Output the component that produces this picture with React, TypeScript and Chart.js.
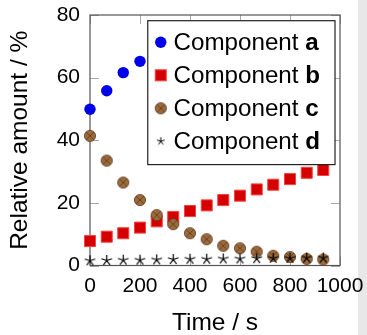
import React, { useEffect, useRef } from "react";
import { Chart, registerables } from "chart.js";
Chart.register(...registerables);

const times = [0, 67, 133, 200, 267, 333, 400, 467, 533, 600, 667, 733, 800, 867, 933];
const compA = [49.9, 55.8, 61.6, 65.2, 67.9, 69.4, 70.1, 70.1, 70.4, 69.7, 68.8, 68.4, 66.8, 65.6, 65.0];
const compB = [7.8, 9.2, 10.3, 12.1, 14.1, 15.5, 17.4, 19.2, 20.9, 22.3, 24.3, 25.8, 27.6, 29.6, 30.5];
const compC = [41.4, 33.5, 26.5, 20.9, 16.1, 13.2, 10.3, 8.4, 6.3, 5.5, 4.4, 3.1, 2.7, 2.1, 1.9];
const compD = [1.5, 1.6, 1.7, 1.7, 1.8, 1.9, 2.0, 2.0, 2.1, 2.1, 2.2, 2.3, 2.3, 2.4, 2.4];
const seriesLetters = ["a", "b", "c", "d"];
const seriesPrefix = "Component ";
const xTitle = "Time / s";
const yTitle = "Relative amount / %";

const FONT = "'Liberation Sans', Arial, sans-serif";

function makeCircleX(): HTMLCanvasElement {
  const s = 14;
  const c = document.createElement("canvas");
  c.width = s;
  c.height = s;
  const g = c.getContext("2d")!;
  const r = 5.6;
  const cx = s / 2,
    cy = s / 2;
  g.beginPath();
  g.arc(cx, cy, r, 0, Math.PI * 2);
  g.fillStyle = "#9c6a3c";
  g.fill();
  g.lineWidth = 0.8;
  g.strokeStyle = "#5a3a1c";
  g.stroke();
  const d = r * Math.SQRT1_2;
  g.beginPath();
  g.moveTo(cx - d, cy - d);
  g.lineTo(cx + d, cy + d);
  g.moveTo(cx + d, cy - d);
  g.lineTo(cx - d, cy + d);
  g.stroke();
  return c;
}

function makeStar(r: number, lw: number): HTMLCanvasElement {
  const s = Math.ceil(r * 2 + 4);
  const c = document.createElement("canvas");
  c.width = s;
  c.height = s;
  const g = c.getContext("2d")!;
  const cx = s / 2,
    cy = s / 2;
  g.strokeStyle = "#000";
  g.lineWidth = lw;
  g.beginPath();
  for (let k = 0; k < 5; k++) {
    const a = ((-90 + 72 * k) * Math.PI) / 180;
    g.moveTo(cx, cy);
    g.lineTo(cx + r * Math.cos(a), cy + r * Math.sin(a));
  }
  g.stroke();
  return c;
}

const framePlugin = {
  id: "frame",
  beforeDatasetsDraw(chart: any) {
    const { ctx, chartArea } = chart;
    const { left, right, top, bottom } = chartArea;
    const xs = chart.scales.x;
    const ys = chart.scales.y;
    const L = 9;
    ctx.save();
    ctx.strokeStyle = "#a8a8a8";
    ctx.lineWidth = 1;
    ctx.beginPath();
    xs.ticks.forEach((t: any) => {
      const px = Math.round(xs.getPixelForValue(t.value)) + 0.5;
      ctx.moveTo(px, bottom);
      ctx.lineTo(px, bottom - L);
      ctx.moveTo(px, top);
      ctx.lineTo(px, top + L);
    });
    ys.ticks.forEach((t: any) => {
      const py = Math.round(ys.getPixelForValue(t.value)) + 0.5;
      ctx.moveTo(left, py);
      ctx.lineTo(left + L, py);
      ctx.moveTo(right, py);
      ctx.lineTo(right - L, py);
    });
    ctx.stroke();
    ctx.strokeStyle = "#555";
    ctx.lineWidth = 1.2;
    ctx.strokeRect(left, top, right - left, bottom - top);
    ctx.restore();
  },
};

const legendPlugin = {
  id: "boxLegend",
  afterDraw(chart: any) {
    const { ctx, chartArea } = chart;
    const fs = 24.2;
    const normal = `${fs}px ${FONT}`;
    const bold = `bold ${fs}px ${FONT}`;
    ctx.save();
    ctx.font = normal;
    const pw = ctx.measureText(seriesPrefix).width;
    ctx.font = bold;
    let lw = 0;
    chart.data.datasets.forEach((ds: any) => {
      lw = Math.max(lw, ctx.measureText(ds.letter).width);
    });
    const textW = pw + lw;
    const w = 25.7 + textW + 15;
    const rowH = 33;
    const h = 21.6 + rowH * 3 + 23.3;
    const right = chartArea.right - 5;
    const top = chartArea.top + 5.7;
    const left = right - w;
    ctx.fillStyle = "#fff";
    ctx.fillRect(left, top, w, h);
    ctx.strokeStyle = "#222";
    ctx.lineWidth = 1.2;
    ctx.strokeRect(left, top, w, h);
    chart.data.datasets.forEach((ds: any, i: number) => {
      const cy = top + 21.6 + i * rowH;
      const mx = left + 13;
      const ps = ds.pointStyle;
      if (ps instanceof HTMLCanvasElement) {
        const img = ds.legendImage || ps;
        ctx.drawImage(img, mx - img.width / 2, cy - img.height / 2);
      } else if (ps === "circle") {
        ctx.beginPath();
        ctx.arc(mx, cy, ds.pointRadius, 0, Math.PI * 2);
        ctx.fillStyle = ds.backgroundColor;
        ctx.fill();
      } else if (ps === "rect") {
        const s = ds.pointRadius * Math.SQRT1_2;
        ctx.fillStyle = ds.backgroundColor;
        ctx.fillRect(mx - s, cy - s, 2 * s, 2 * s);
        ctx.strokeStyle = ds.borderColor;
        ctx.lineWidth = ds.pointBorderWidth;
        ctx.strokeRect(mx - s, cy - s, 2 * s, 2 * s);
      }
      ctx.fillStyle = "#000";
      ctx.textBaseline = "middle";
      ctx.textAlign = "left";
      ctx.font = normal;
      const tx = left + 25.7;
      ctx.fillText(seriesPrefix, tx, cy + 1);
      ctx.font = bold;
      ctx.fillText(ds.letter, tx + pw, cy + 1);
    });
    ctx.restore();
  },
};

export default function App() {
  const ref = useRef<HTMLCanvasElement | null>(null);
  useEffect(() => {
    if (!ref.current) return;
    const circX = makeCircleX();
    const star = makeStar(5.5, 1.2);
    const starSmall = makeStar(4, 1);
    const mk = (vals: number[]) => vals.map((v, i) => ({ x: times[i], y: v }));
    const plain = (v: any) => String(v);
    const chart = new Chart(ref.current, {
      type: "scatter",
      data: {
        datasets: [
          {
            label: seriesPrefix + seriesLetters[0],
            letter: seriesLetters[0],
            data: mk(compA),
            pointStyle: "circle",
            pointRadius: 5.7,
            backgroundColor: "#0000e8",
            borderColor: "#0000e8",
            pointBorderWidth: 0,
            order: 4,
            clip: false,
          } as any,
          {
            label: seriesPrefix + seriesLetters[1],
            letter: seriesLetters[1],
            data: mk(compB),
            pointStyle: "rect",
            pointRadius: 7.8,
            backgroundColor: "#d40000",
            borderColor: "#ff4040",
            pointBorderWidth: 1,
            order: 3,
            clip: false,
          } as any,
          {
            label: seriesPrefix + seriesLetters[2],
            letter: seriesLetters[2],
            data: mk(compC),
            pointStyle: circX,
            backgroundColor: "#9c6a3c",
            order: 2,
            clip: false,
          } as any,
          {
            label: seriesPrefix + seriesLetters[3],
            letter: seriesLetters[3],
            data: mk(compD),
            pointStyle: star,
            legendImage: starSmall,
            backgroundColor: "#000",
            order: 1,
            clip: false,
          } as any,
        ],
      },
      options: {
        animation: false,
        responsive: false,
        devicePixelRatio: 1,
        layout: { padding: { left: 0, top: 15, right: 27, bottom: 0 } },
        plugins: { legend: { display: false }, tooltip: { enabled: false } },
        font: { family: FONT },
        scales: {
          x: {
            type: "linear",
            min: 0,
            max: 1000,
            ticks: { stepSize: 200, autoSkip: false, callback: plain, color: "#000", font: { family: FONT, size: 21 }, padding: 8, maxRotation: 0 },
            grid: { display: false, drawTicks: false },
            border: { display: false },
            title: { display: true, text: xTitle, color: "#000", font: { family: FONT, size: 24.5, lineHeight: 1 }, padding: { top: 0, bottom: 0 } },
            afterFit: (s: any) => {
              s.height = 69.5;
              s.paddingLeft = 0;
              s.paddingRight = 0;
            },
          },
          y: {
            type: "linear",
            min: 0,
            max: 80,
            ticks: { stepSize: 20, autoSkip: false, callback: plain, color: "#000", font: { family: FONT, size: 21 }, padding: 10 },
            grid: { display: false, drawTicks: false },
            border: { display: false },
            title: { display: true, text: yTitle, color: "#000", font: { family: FONT, size: 24.5, lineHeight: 1 }, padding: { top: 8, bottom: 0 } },
            afterFit: (s: any) => {
              s.width = 90;
              s.paddingTop = 0;
              s.paddingBottom = 0;
            },
          },
        },
      } as any,
      plugins: [framePlugin, legendPlugin],
    });
    return () => chart.destroy();
  }, []);
  return (
    <div style={{ position: "absolute", left: 0, top: 0, width: 367, height: 335, background: "#fff" }}>
      <div style={{ position: "absolute", left: 358, top: 0, width: 9, height: 335, background: "#e8e8e8" }} />
      <canvas ref={ref} width={367} height={335} style={{ position: "absolute", left: 0, top: 0, width: 367, height: 335 }} />
    </div>
  );
}
